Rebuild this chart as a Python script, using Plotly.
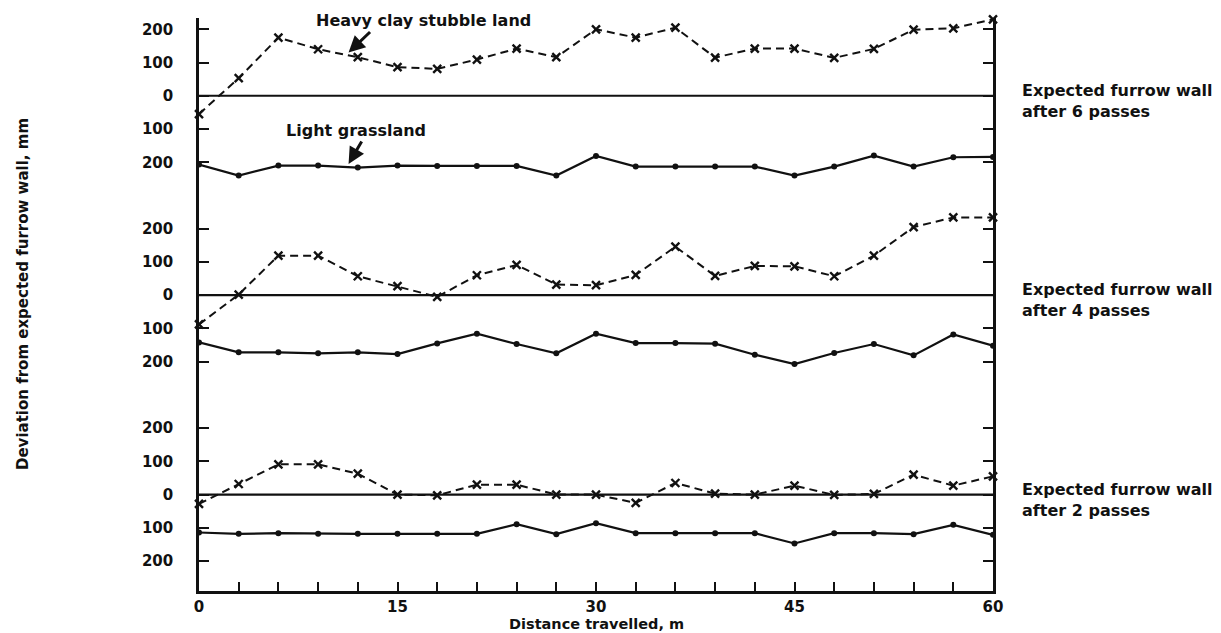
import plotly.graph_objects as go

# ---- data ----
distance = [0, 3, 6, 9, 12, 15, 18, 21, 24, 27, 30, 33, 36, 39, 42, 45, 48, 51, 54, 57, 60]

clay_6 = [-55, 53, 175, 140, 116, 86, 81, 109, 142, 116, 200, 175, 205, 115, 142, 142, 114, 141, 199, 203, 230]
grass_6 = [-207, -240, -210, -210, -216, -210, -211, -211, -211, -240, -181, -213, -213, -213, -213, -240, -213, -180, -213, -185, -184]
clay_4 = [-88, 2, 119, 119, 57, 27, -5, 60, 91, 32, 30, 61, 146, 58, 88, 87, 57, 119, 205, 234, 234]
grass_4 = [-142, -172, -172, -175, -172, -177, -145, -116, -147, -175, -116, -144, -144, -146, -179, -207, -174, -147, -181, -118, -152]
clay_2 = [-28, 32, 91, 91, 63, 0, -2, 30, 30, 0, 0, -25, 35, 3, 0, 27, -1, 2, 60, 27, 55]
grass_2 = [-114, -118, -116, -118, -118, -118, -118, -118, -89, -119, -86, -116, -116, -116, -116, -147, -116, -116, -119, -91, -121]

panel_passes = [6, 4, 2]
panel_offsets = [1200, 600, 0]          # vertical stacking of the three panels (mm)
clay_series = [clay_6, clay_4, clay_2]
grass_series = [grass_6, grass_4, grass_2]
panel_ticks = [200, 100, 0, -100, -200]
panel_tick_labels = ["200", "100", "0", "100", "200"]
x_ticks = list(range(0, 61, 3))
x_labels = [str(v) if v % 15 == 0 else "" for v in x_ticks]

FONT = "DejaVu Sans"
INK = "#111111"

fig = go.Figure()

for off, clay, grass in zip(panel_offsets, clay_series, grass_series):
    # expected furrow wall line
    fig.add_trace(go.Scatter(
        x=[distance[0], distance[-1]], y=[off, off], mode="lines",
        line=dict(color=INK, width=2.2), hoverinfo="skip", cliponaxis=False))
    # heavy clay stubble land
    fig.add_trace(go.Scatter(
        x=distance, y=[v + off for v in clay], mode="lines+markers",
        line=dict(color=INK, width=2, dash="8px,5px"),
        marker=dict(symbol="x-thin", size=8, line=dict(color=INK, width=2.4)),
        cliponaxis=False))
    # light grassland
    fig.add_trace(go.Scatter(
        x=distance, y=[v + off for v in grass], mode="lines+markers",
        line=dict(color=INK, width=2.2),
        marker=dict(symbol="circle", size=6, color=INK),
        cliponaxis=False))

tickvals = []
ticktext = []
for off in panel_offsets:
    for t, lab in zip(panel_ticks, panel_tick_labels):
        tickvals.append(off + t)
        ticktext.append(lab)

# the page body adds an 8px margin, so the figure is 8px smaller and shifted
PLOT_TOP, PLOT_BOTTOM = 18, 591          # page pixels
PLOT_H = PLOT_BOTTOM - PLOT_TOP
fig.update_layout(
    width=1213, height=625,
    margin=dict(l=191, r=228, t=PLOT_TOP - 8, b=625 - (PLOT_BOTTOM - 8)),
    paper_bgcolor="white", plot_bgcolor="white",
    showlegend=False,
    font=dict(family=FONT, size=15, color=INK, weight="bold"),
    xaxis=dict(
        range=[0, 60], tickvals=x_ticks, ticktext=x_labels,
        ticks="inside", ticklen=9, tickwidth=2, tickcolor=INK,
        showline=True, linewidth=2.5, linecolor=INK, mirror=False,
        showgrid=False, zeroline=False,
        tickfont=dict(family=FONT, size=15, color=INK, weight="bold"),
    ),
    yaxis=dict(
        range=[-290, 1434], tickvals=tickvals, ticktext=ticktext,
        ticks="inside", ticklen=10, tickwidth=2, tickcolor=INK,
        showline=True, linewidth=2.5, linecolor=INK, mirror="ticks",
        showgrid=False, zeroline=False, ticklabelstandoff=20,
        tickfont=dict(family=FONT, size=15, color=INK, weight="bold"),
    ),
)

annos = []
# axis titles
annos.append(dict(text="Deviation from expected furrow wall, mm", xref="paper", yref="paper",
                  x=(23 - 199) / 794, y=(PLOT_BOTTOM - 294) / PLOT_H, textangle=-90,
                  showarrow=False, xanchor="center", yanchor="middle",
                  font=dict(family=FONT, size=15, color=INK, weight="bold")))
annos.append(dict(text="Distance travelled, m", xref="paper", yref="paper",
                  x=0.5, y=(PLOT_BOTTOM - 624) / PLOT_H, showarrow=False,
                  xanchor="center", yanchor="middle",
                  font=dict(family=FONT, size=14.5, color=INK, weight="bold")))
# right-hand labels
for off, n in zip(panel_offsets, panel_passes):
    annos.append(dict(text=f"Expected furrow wall<br>after {n} passes", xref="paper", yref="y",
                      x=(1020 - 199) / 794, y=off - 15, xanchor="left", yanchor="middle",
                      align="left", showarrow=False,
                      font=dict(family=FONT, size=16, color=INK, weight="bold")))
# series labels with arrows
annos.append(dict(text="Heavy clay stubble land", x=17.0, y=1426, xref="x", yref="y",
                  showarrow=False, xanchor="center", yanchor="middle",
                  font=dict(family=FONT, size=16, color=INK, weight="bold")))
annos.append(dict(text="", x=11.3, y=1330, xref="x", yref="y", showarrow=True,
                  ax=23, ay=-22, arrowhead=2, arrowsize=1.1, arrowwidth=3, arrowcolor=INK))
annos.append(dict(text="Light grassland", x=11.9, y=1096, xref="x", yref="y",
                  showarrow=False, xanchor="center", yanchor="middle",
                  font=dict(family=FONT, size=16, color=INK, weight="bold")))
annos.append(dict(text="", x=11.3, y=995, xref="x", yref="y", showarrow=True,
                  ax=14, ay=-24, arrowhead=2, arrowsize=1.1, arrowwidth=3, arrowcolor=INK))
fig.update_layout(annotations=annos)

fig.write_html("out.html")
